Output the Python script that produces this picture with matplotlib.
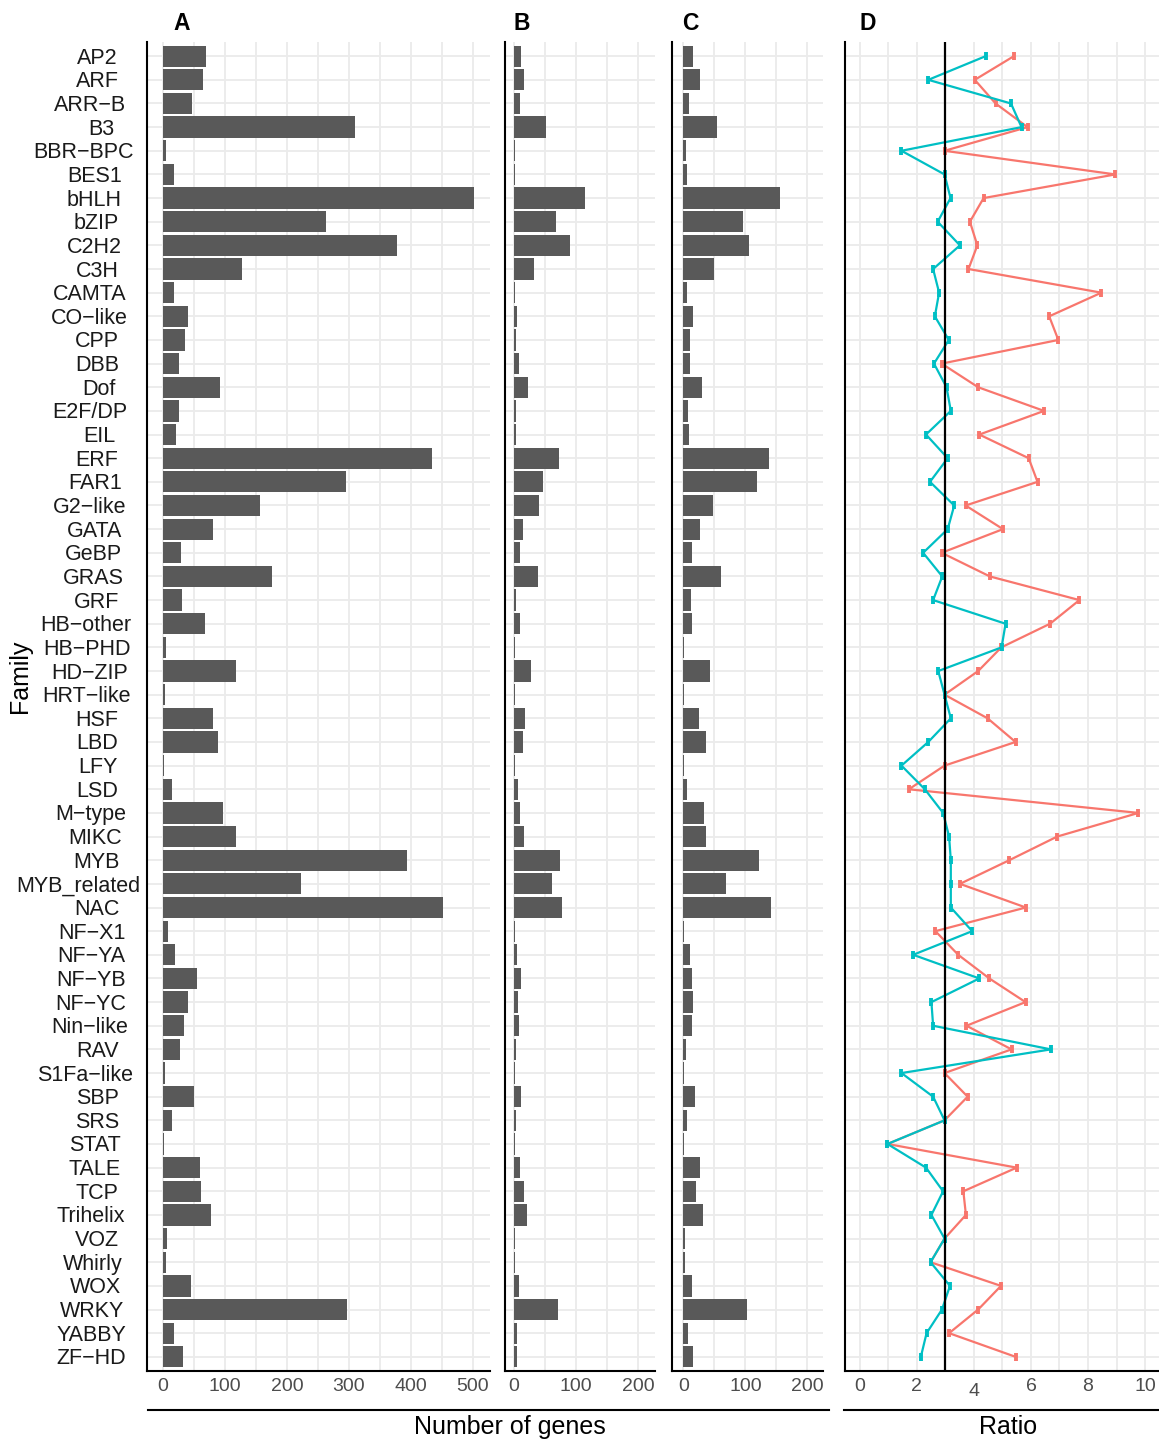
############################################################################
### TF families - gene counts per species and ratio plot
############################################################################

# Third party imports
import numpy as np
import matplotlib.pyplot as plt
from matplotlib.lines import Line2D

plt.rcParams['font.family'] = ['Liberation Sans', 'DejaVu Sans']


# --------------------------------------------------------------------------
# Data
# --------------------------------------------------------------------------

families = ['AP2', 'ARF', 'ARR-B', 'B3', 'BBR-BPC', 'BES1', 'bHLH', 'bZIP',
            'C2H2', 'C3H', 'CAMTA', 'CO-like', 'CPP', 'DBB', 'Dof', 'E2F/DP',
            'EIL', 'ERF', 'FAR1', 'G2-like', 'GATA', 'GeBP', 'GRAS', 'GRF',
            'HB-other', 'HB-PHD', 'HD-ZIP', 'HRT-like', 'HSF', 'LBD', 'LFY',
            'LSD', 'M-type', 'MIKC', 'MYB', 'MYB_related', 'NAC', 'NF-X1',
            'NF-YA', 'NF-YB', 'NF-YC', 'Nin-like', 'RAV', 'S1Fa-like', 'SBP',
            'SRS', 'STAT', 'TALE', 'TCP', 'Trihelix', 'VOZ', 'Whirly', 'WOX',
            'WRKY', 'YABBY', 'ZF-HD']

# Panel A - number of genes
genes_a = [70, 65, 47, 309, 5, 18, 502, 263, 377, 127, 17, 40, 35, 26, 92, 26,
           21, 434, 295, 157, 81, 29, 175, 31, 67, 5, 117, 3, 81, 88, 2, 14,
           97, 118, 394, 223, 452, 8, 20, 55, 41, 34, 27, 3, 50, 15, 1, 60,
           62, 78, 6, 5, 45, 296, 18, 33]

# Panel B - number of genes
genes_b = [12, 16, 9, 52, 2, 2, 115, 68, 90, 33, 2, 5, 4, 8, 22, 3, 4, 73, 46,
           41, 15, 9, 38, 3, 9, 1, 27, 1, 17, 15, 1, 7, 9, 16, 75, 62, 77, 2,
           5, 11, 6, 8, 4, 1, 12, 4, 1, 10, 16, 21, 2, 2, 8, 71, 5, 5]

# Panel C - number of genes
genes_c = [16, 27, 9, 54, 4, 6, 156, 96, 106, 49, 6, 15, 11, 10, 30, 8, 9, 138,
           119, 47, 26, 13, 60, 12, 13, 1, 42, 1, 25, 37, 1, 6, 33, 37, 122,
           69, 141, 1, 11, 13, 16, 13, 4, 1, 19, 5, 1, 26, 21, 31, 2, 2, 14,
           102, 8, 15]

# Panel D - ratios (two series)
ratio_red = [5.40, 4.03, 4.76, 5.88, 2.97, 8.96, 4.34, 3.86, 4.12, 3.81, 8.47,
             6.64, 6.96, 2.87, 4.15, 6.46, 4.19, 5.92, 6.23, 3.71, 5.02, 2.87,
             4.56, 7.70, 6.67, 4.96, 4.15, 2.97, 4.48, 5.46, 2.97, 1.72, 9.77,
             6.92, 5.24, 3.51, 5.82, 2.65, 3.45, 4.54, 5.81, 3.74, 5.32, 2.97,
             3.78, 2.97, 0.97, 5.50, 3.63, 3.72, 2.97, 2.48, 4.95, 4.15, 3.13,
             5.46]
ratio_teal = [4.41, 2.40, 5.30, 5.67, 1.46, 2.97, 3.18, 2.73, 3.51, 2.57, 2.78,
              2.63, 3.12, 2.60, 3.04, 3.19, 2.32, 3.08, 2.46, 3.31, 3.08, 2.22,
              2.89, 2.57, 5.11, 4.97, 2.75, 2.97, 3.19, 2.40, 1.46, 2.28, 2.92,
              3.13, 3.19, 3.19, 3.19, 3.94, 1.87, 4.19, 2.51, 2.57, 6.70, 1.46,
              2.57, 2.97, 0.97, 2.32, 2.92, 2.51, 2.97, 2.48, 3.16, 2.88, 2.34,
              2.14]
ratio_ref = 2.97


# --------------------------------------------------------------------------
# Layout helpers (pixel based)
# --------------------------------------------------------------------------

W, H = 1159, 1440
TOP, BOTTOM = 42, 1371

def px_rect(x0, x1, y0=TOP, y1=BOTTOM):
    return [x0 / W, 1 - y1 / H, (x1 - x0) / W, (y1 - y0) / H]

BAR_COLOR = '#595959'
GRID_COLOR = '#EBEBEB'
TICK_COLOR = '#4D4D4D'
RED = '#F8766D'
TEAL = '#00BFC4'

ypos = np.arange(len(families))
labels = [f.replace('-', '\u2212') for f in families]

fig = plt.figure(figsize=(W / 100, H / 100), dpi=100)


def style_axis(ax, xlim, major, minor):
    ax.set_xlim(*xlim)
    ax.set_ylim(len(families) - 1 + 0.6, -0.6)
    ax.set_xticks(major)
    ax.set_xticks(minor, minor=True)
    ax.set_yticks(ypos)
    ax.grid(which='both', color=GRID_COLOR, lw=1.3, zorder=0)
    ax.set_axisbelow(True)
    for s in ['top', 'right']:
        ax.spines[s].set_visible(False)
    for s in ['left', 'bottom']:
        ax.spines[s].set_color('black')
        ax.spines[s].set_linewidth(1.5)
    ax.tick_params(axis='x', which='both', length=0, pad=5,
                   labelsize=14, labelcolor=TICK_COLOR)
    ax.tick_params(axis='y', which='both', length=0, labelleft=False)


# --------------------------------------------------------------------------
# Panels A - C: bar charts
# --------------------------------------------------------------------------

ax_a = fig.add_axes(px_rect(147, 490))
ax_a.barh(ypos, genes_a, height=0.9, color=BAR_COLOR, zorder=2)
style_axis(ax_a, (-25.8, 527.4), np.arange(0, 501, 100), np.arange(50, 501, 100))

ax_b = fig.add_axes(px_rect(505, 655))
ax_b.barh(ypos, genes_b, height=0.9, color=BAR_COLOR, zorder=2)
style_axis(ax_b, (-14.5, 227.4), [0, 100, 200], [50, 150])

ax_c = fig.add_axes(px_rect(672, 823))
ax_c.barh(ypos, genes_c, height=0.9, color=BAR_COLOR, zorder=2)
style_axis(ax_c, (-18.5, 225.0), [0, 100, 200], [50, 150])

# family labels: in the original they are neither right aligned nor centred
# (roughly hjust = 0.73 around x = 107 px), so place them by hand
renderer = fig.canvas.get_renderer()
HJUST, ANCHOR = 0.73, 107
for yi, lab in zip(ypos, labels):
    yf = ax_a.transData.transform((0, yi))[1] - 2
    t = fig.text(0, yf / H, lab, fontsize=15.5, color='#1A1A1A',
                 ha='left', va='center')
    w = t.get_window_extent(renderer).width
    t.set_x((ANCHOR - HJUST * w) / W)


# --------------------------------------------------------------------------
# Panel D: ratios
# --------------------------------------------------------------------------

ax_d = fig.add_axes(px_rect(845, 1159))
style_axis(ax_d, (-0.52, 10.49), np.arange(0, 11, 2), np.arange(1, 10, 2))
ax_d.plot(ratio_red, ypos, color=RED, lw=1.6, marker='|', ms=6, mew=2.8,
          zorder=3)
ax_d.plot(ratio_teal, ypos, color=TEAL, lw=1.6, marker='|', ms=6, mew=2.8,
          zorder=3)
ax_d.axvline(ratio_ref, color='black', lw=1.6, zorder=4)

# the "4" tick label sits a little lower in the original
ax_d.get_xticklabels()[2].set_y(-0.0038)


# --------------------------------------------------------------------------
# Titles, panel letters and bottom strips
# --------------------------------------------------------------------------

for letter, xp in zip('ABCD', [182, 522, 690, 868]):
    fig.text(xp / W, 1 - 24 / H, letter, fontsize=16.5, fontweight='bold',
             ha='center', va='center')

fig.text(20 / W, 1 - 676 / H, 'Family', fontsize=18, rotation=90,
         ha='center', va='center')

fig.add_artist(Line2D([148 / W, 829 / W], [1 - 1410 / H, 1 - 1410 / H],
                      color='black', lw=1.5))
fig.add_artist(Line2D([844 / W, 1.0], [1 - 1410 / H, 1 - 1410 / H],
                      color='black', lw=1.5))

fig.text(510 / W, 1 - 1427 / H, 'Number of genes', fontsize=18,
         ha='center', va='center')
fig.text(1008 / W, 1 - 1427 / H, 'Ratio', fontsize=18,
         ha='center', va='center')

fig.savefig('out.png', dpi=100)
